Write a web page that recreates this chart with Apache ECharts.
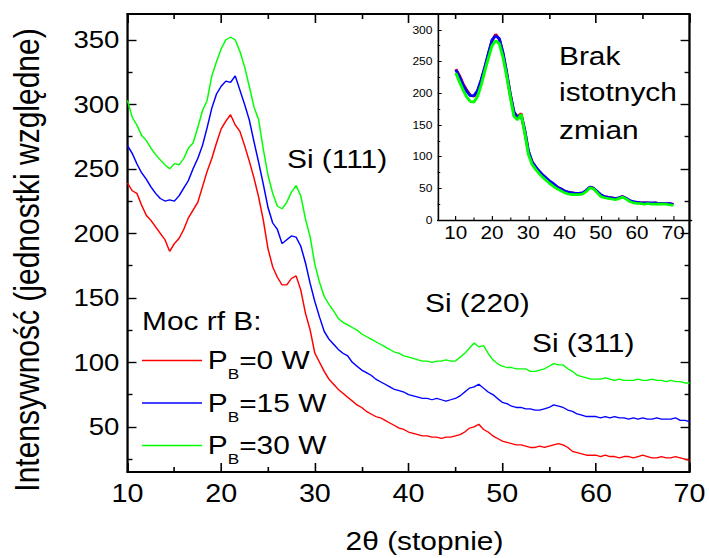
<!DOCTYPE html>
<html>
<head>
<meta charset="utf-8">
<title>XRD</title>
<script src="https://cdn.jsdelivr.net/npm/echarts@6/dist/echarts.min.js"></script>
<style>
  html, body { margin: 0; padding: 0; background: #fff; overflow: hidden; }
  /* the figure is drawn on a narrower canvas and widened horizontally */
  #chart { width: 617px; height: 558px; transform: scaleX(1.149108); transform-origin: 0 0; }
</style>
</head>
<body>
<div id="chart"></div>
<script>
// 2θ sampling of the main curves (degrees)
const twoTheta = [
  10, 10.5, 11, 11.5, 12, 12.5, 13, 13.5, 14, 14.5,
  15, 15.5, 16, 16.5, 17, 17.5, 18, 18.5, 19, 19.5,
  20, 20.5, 21, 21.5, 22, 22.5, 23, 23.5, 24, 24.5,
  25, 25.5, 26, 26.5, 27, 27.5, 28, 28.5, 29, 29.5,
  30, 30.5, 31, 31.5, 32, 32.5, 33, 33.5, 34, 34.5,
  35, 35.5, 36, 36.5, 37, 37.5, 38, 38.5, 39, 39.5,
  40, 40.5, 41, 41.5, 42, 42.5, 43, 43.5, 44, 44.5,
  45, 45.5, 46, 46.5, 47, 47.5, 48, 48.5, 49, 49.5,
  50, 50.5, 51, 51.5, 52, 52.5, 53, 53.5, 54, 54.5,
  55, 55.5, 56, 56.5, 57, 57.5, 58, 58.5, 59, 59.5,
  60, 60.5, 61, 61.5, 62, 62.5, 63, 63.5, 64, 64.5,
  65, 65.5, 66, 66.5, 67, 67.5, 68, 68.5, 69, 69.5,
  70
];

// intensities, P_B = 0 W
const intensity0W = [
  239, 233, 231, 222, 214, 210, 205, 200, 195, 186,
  192, 196, 203, 212, 218, 224, 236, 248, 258, 270,
  281, 287, 292, 284, 279, 268, 256, 243, 228, 210,
  188, 174, 166, 160, 160, 165, 167, 156, 138, 125,
  107, 100, 93, 87, 83, 79, 76, 73, 70, 67,
  65, 62, 60, 58, 57, 55, 53, 51, 49, 48,
  46, 45, 44, 43, 43, 42, 42, 41, 42, 42,
  43, 44, 46, 49, 50, 52, 48, 46, 43, 41,
  39, 38, 37, 36, 36, 35, 34, 34, 35, 34,
  35, 36, 37, 36, 34, 31, 30, 29, 28, 28,
  28, 27, 28, 27, 27, 26, 27, 27, 26, 27,
  28, 27, 26, 26, 27, 26, 26, 27, 26, 25,
  24
];

// intensities, P_B = 15 W
const intensity15W = [
  268, 262, 254, 247, 242, 236, 231, 227, 225, 226,
  225, 229, 235, 241, 250, 258, 268, 282, 297, 308,
  314, 318, 317, 322, 311, 300, 288, 271, 255, 238,
  220, 208, 203, 192, 195, 198, 197, 190, 177, 161,
  147, 135, 124, 118, 114, 110, 107, 105, 100, 97,
  94, 92, 90, 87, 85, 83, 81, 79, 78, 77,
  75, 74, 73, 72, 72, 71, 72, 71, 70, 71,
  72, 74, 77, 80, 81, 83, 80, 77, 75, 72,
  69, 68, 66, 65, 65, 64, 64, 63, 63, 64,
  65, 67, 66, 65, 63, 62, 60, 59, 58, 58,
  58, 57, 58, 57, 58, 57, 57, 56, 57, 56,
  57, 56, 56, 57, 56, 56, 56, 57, 55, 55,
  54
];

// intensities, P_B = 30 W
const intensity30W = [
  303, 290, 284, 276, 272, 266, 261, 257, 253, 250,
  254, 253, 258, 266, 270, 282, 295, 303, 322, 333,
  343, 350, 352, 350, 341, 329, 314, 298, 288, 265,
  245, 231, 221, 219, 224, 232, 237, 229, 211, 197,
  176, 162, 151, 145, 140, 134, 131, 129, 127, 125,
  122, 120, 118, 116, 114, 112, 110, 108, 107, 105,
  104, 103, 102, 101, 101, 100, 101, 101, 102, 101,
  101, 104, 107, 111, 115, 112, 113, 107, 102, 99,
  97, 96, 96, 95, 95, 95, 93, 93, 94, 95,
  97, 99, 98, 98, 95, 93, 90, 89, 88, 87,
  87, 87, 88, 87, 86, 87, 86, 86, 86, 87,
  86, 86, 87, 86, 86, 85, 86, 85, 85, 84,
  84
];

// inset: the same patterns without vertical shift, 1 degree sampling
const insetTheta = [
  10, 11, 12, 13, 14, 15, 16, 17, 18, 19,
  20, 21, 22, 23, 24, 25, 26, 27, 28, 29,
  30, 31, 32, 33, 34, 35, 36, 37, 38, 39,
  40, 41, 42, 43, 44, 45, 46, 47, 48, 49,
  50, 51, 52, 53, 54, 55, 56, 57, 58, 59,
  60, 61, 62, 63, 64, 65, 66, 67, 68, 69,
  70
];
const inset0W = [
  238, 228, 215, 205, 197, 195, 203, 220, 240, 262,
  283, 293, 285, 262, 232, 198, 170, 163, 168, 140,
  108, 92, 83, 76, 70, 65, 60, 56, 52, 49,
  46, 44, 43, 42, 42, 43, 46, 52, 50, 44,
  39, 37, 36, 35, 34, 35, 37, 34, 30, 28,
  28, 27, 27, 27, 26, 27, 26, 26, 26, 26,
  24
];
const inset15W = [
  237, 226, 213, 203, 196, 196, 204, 221, 241, 263,
  284, 291, 286, 264, 233, 199, 171, 161, 166, 142,
  109, 92, 84, 77, 71, 66, 61, 57, 52, 49,
  46, 44, 43, 42, 42, 43, 47, 52, 50, 45,
  40, 37, 36, 35, 34, 35, 37, 34, 31, 29,
  28, 27, 27, 27, 27, 27, 26, 26, 26, 26,
  25
];
const inset30W = [
  232, 218, 205, 194, 187, 186, 195, 213, 235, 256,
  275, 283, 278, 257, 228, 195, 164, 158, 167, 138,
  104, 88, 80, 73, 67, 62, 57, 53, 49, 46,
  43, 41, 40, 40, 40, 41, 45, 51, 49, 43,
  37, 35, 34, 33, 32, 34, 36, 33, 29, 27,
  26, 26, 25, 26, 25, 25, 25, 25, 25, 24,
  23
];

// tick positions
const mainYTicks = [50, 100, 150, 200, 250, 300, 350];
const mainYMinor = [25, 75, 125, 175, 225, 275, 325];
const mainXMinor = [15, 25, 35, 45, 55, 65];
const insetXTicks = [10, 20, 30, 40, 50, 60, 70];
const insetXMinor = [15, 25, 35, 45, 55, 65];
const insetYTicks = [0, 50, 100, 150, 200, 250, 300];
const insetYMinor = [25, 75, 125, 175, 225, 275];

const seriesNames = ['PB=0 W', 'PB=15 W', 'PB=30 W'];
const seriesColors = ['#ff0000', '#0000ff', '#00ff00'];

// horizontal positions are written in page pixels and divided by the stretch
const SX = 709 / 617;
const h = v => v / SX;
const FONT = '"Liberation Sans", Arial, Helvetica, sans-serif';
const BLACK = '#000';

const pairs = (xs, ys) => xs.map((x, i) => [x, ys[i]]);

function tickAxis(dim, o) {
  const tickLen = dim === 'y' ? h(o.len) : o.len;
  return {
    type: 'value',
    gridIndex: o.grid,
    position: o.pos,
    min: o.min,
    max: o.max,
    interval: o.interval,
    axisLine: { show: !!o.line, onZero: false, lineStyle: { color: BLACK, width: o.line || 1 } },
    axisTick: Object.assign(
      { show: true, inside: true, length: tickLen, lineStyle: { color: BLACK, width: o.tickWidth || 1.4 } },
      o.ticks ? { customValues: o.ticks } : {}
    ),
    axisLabel: o.labels
      ? Object.assign({ show: true, color: BLACK, fontFamily: FONT, fontSize: o.fontSize, margin: o.margin },
          Array.isArray(o.labels) ? { customValues: o.labels } : {})
      : { show: false },
    splitLine: { show: false },
    minorTick: { show: false },
    minorSplitLine: { show: false }
  };
}

const xAxes = [
  // main plot: bottom, labelled
  tickAxis('x', { grid: 0, pos: 'bottom', min: 10, max: 70, interval: 10, line: 2, len: 9, labels: true, fontSize: 25, margin: 9 }),
  tickAxis('x', { grid: 0, pos: 'bottom', min: 10, max: 70, len: 5, ticks: mainXMinor }),
  // main plot: top frame
  tickAxis('x', { grid: 0, pos: 'top', min: 10, max: 70, interval: 10, line: 2, len: 9 }),
  tickAxis('x', { grid: 0, pos: 'top', min: 10, max: 70, len: 5, ticks: mainXMinor }),
  // inset
  tickAxis('x', { grid: 1, pos: 'bottom', min: 5, max: 75, line: 1.4, len: 4, tickWidth: 1, ticks: insetXTicks, labels: insetXTicks, fontSize: 18, margin: 3 }),
  tickAxis('x', { grid: 1, pos: 'bottom', min: 5, max: 75, len: 2.5, tickWidth: 1, ticks: insetXMinor })
];

const yAxes = [
  // main plot: left, labelled
  tickAxis('y', { grid: 0, pos: 'left', min: 15, max: 370, line: 2, len: 9, ticks: mainYTicks, labels: mainYTicks, fontSize: 24, margin: 7 }),
  tickAxis('y', { grid: 0, pos: 'left', min: 15, max: 370, len: 5, ticks: mainYMinor }),
  // main plot: right frame
  tickAxis('y', { grid: 0, pos: 'right', min: 15, max: 370, line: 2, len: 9, ticks: mainYTicks }),
  tickAxis('y', { grid: 0, pos: 'right', min: 15, max: 370, len: 5, ticks: mainYMinor }),
  // inset
  tickAxis('y', { grid: 1, pos: 'left', min: 0, max: 325, line: 1.4, len: 4, tickWidth: 1, ticks: insetYTicks, labels: insetYTicks, fontSize: 10.5, margin: 4.5 }),
  tickAxis('y', { grid: 1, pos: 'left', min: 0, max: 325, len: 2.5, tickWidth: 1, ticks: insetYMinor })
];

const mainData = [intensity0W, intensity15W, intensity30W];
const insetData = [inset0W, inset15W, inset30W];

const series = [];
mainData.forEach((ys, i) => {
  series.push({
    type: 'line', name: seriesNames[i], xAxisIndex: 0, yAxisIndex: 0,
    data: pairs(twoTheta, ys), symbol: 'none', z: 3,
    lineStyle: { color: seriesColors[i], width: 1.3 }, itemStyle: { color: seriesColors[i] }
  });
});
insetData.forEach((ys, i) => {
  series.push({
    type: 'line', name: seriesNames[i], xAxisIndex: 4, yAxisIndex: 4,
    data: pairs(insetTheta, ys), symbol: 'none', z: 3,
    lineStyle: { color: seriesColors[i], width: 2.6 }, itemStyle: { color: seriesColors[i] }
  });
});

function label(text, x, y, size, align, extra) {
  return Object.assign({
    type: 'text', x: x, y: y, z: 10,
    style: {
      text: text, fill: BLACK, fontFamily: FONT, fontSize: size,
      align: align, verticalAlign: 'middle',
      textAlign: align, textVerticalAlign: 'middle'
    }
  }, extra || {});
}

const option = {
  animation: false,
  backgroundColor: '#fff',
  grid: [
    { left: h(127.5), top: 14, width: h(564), height: 458, containLabel: false },
    { left: h(437.7), top: 14, width: h(253.8), height: 206, containLabel: false }
  ],
  xAxis: xAxes,
  yAxis: yAxes,
  legend: {
    data: seriesNames,
    orient: 'vertical',
    left: h(142), top: 340,
    padding: 0,
    itemWidth: h(60), itemHeight: 1.6,
    itemGap: 1.5,
    icon: 'rect',
    selectedMode: false,
    formatter: name => '{p|P}{s|B}{p|' + name.slice(2) + '}',
    textStyle: {
      color: BLACK, fontFamily: FONT,
      rich: {
        p: { fontSize: 26, lineHeight: 40, color: BLACK, fontFamily: FONT },
        s: { fontSize: 15, lineHeight: 14, padding: [26, 0, 0, 0], color: BLACK, fontFamily: FONT }
      }
    }
  },
  graphic: [
    label('Intensywność (jednostki względne)', h(27.3), 260, 30, 'center', { rotation: Math.PI / 2 }),
    label('2θ (stopnie)', h(424.5), 541, 26, 'center'),
    label('Moc rf B:', h(142), 321, 26, 'left'),
    label('Si (111)', h(287), 159, 26, 'left'),
    label('Si (220)', h(425), 303, 26, 'left'),
    label('Si (311)', h(532), 343, 26, 'left'),
    label('Brak', h(559), 56, 26, 'left'),
    label('istotnych', h(559), 92.5, 26, 'left'),
    label('zmian', h(559), 130, 26, 'left')
  ],
  series: series
};

const chart = echarts.init(document.getElementById('chart'), null, { renderer: 'svg' });
chart.setOption(option);
</script>
</body>
</html>
